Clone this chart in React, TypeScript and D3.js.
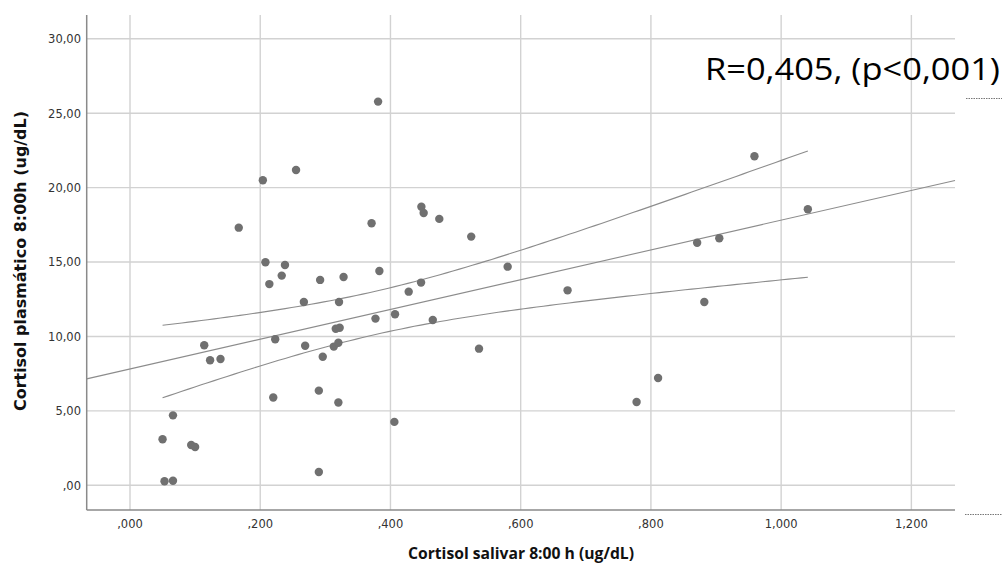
import React from "react";
import * as d3 from "d3";

// ---- data ----
const salivar: number[] = [
  0.050, 0.066, 0.094, 0.100, 0.053, 0.066, 0.220, 0.290, 0.320, 0.406,
  0.290, 0.778, 0.811, 0.167, 0.208, 0.238, 0.233, 0.214, 0.292, 0.267,
  0.321, 0.223, 0.269, 0.296, 0.114, 0.123, 0.139, 0.313, 0.320, 0.316,
  0.322, 0.328, 0.371, 0.383, 0.377, 0.407, 0.428, 0.447, 0.4475, 0.451,
  0.475, 0.524, 0.465, 0.536, 0.204, 0.255, 0.381, 0.580, 0.672, 0.871,
  0.905, 0.959, 1.041, 0.882,
];
const plasmatico: number[] = [
  3.09, 4.70, 2.71, 2.57, 0.27, 0.31, 5.90, 6.36, 5.56, 4.26,
  0.89, 5.60, 7.21, 17.31, 14.99, 14.80, 14.09, 13.52, 13.80, 12.32,
  12.32, 9.81, 9.38, 8.64, 9.41, 8.40, 8.49, 9.32, 9.58, 10.52,
  10.59, 14.00, 17.61, 14.40, 11.20, 11.49, 13.01, 13.62, 18.72, 18.30,
  17.90, 16.71, 11.11, 9.18, 20.50, 21.19, 25.78, 14.69, 13.10, 16.30,
  16.60, 22.11, 18.55, 12.32,
];
const xTicks: number[] = [0, 0.2, 0.4, 0.6, 0.8, 1.0, 1.2];
const xTickLabels: string[] = [",000", ",200", ",400", ",600", ",800", "1,000", "1,200"];
const yTicks: number[] = [0, 5, 10, 15, 20, 25, 30];
const yTickLabels: string[] = [",00", "5,00", "10,00", "15,00", "20,00", "25,00", "30,00"];
const xDomain: number[] = [-0.0665, 1.267];
const yDomain: number[] = [-1.66, 31.6];
const annotation = "R=0,405, (p<0,001)";
const xTitle = "Cortisol salivar 8:00 h (ug/dL)";
const yTitle = "Cortisol plasmático 8:00h (ug/dL)";
const tCrit = 2.0066; // t(0.975, df=52)

export default function App() {
  const W = 1002, H = 565;
  const left = 86.7, right = 955, top = 15, bottom = 510;
  const x = d3.scaleLinear().domain(xDomain).range([left, right]);
  const y = d3.scaleLinear().domain(yDomain).range([bottom, top]);

  // linear regression
  const n = salivar.length;
  const mx = d3.mean(salivar)!;
  const my = d3.mean(plasmatico)!;
  let sxx = 0, sxy = 0;
  for (let i = 0; i < n; i++) {
    sxx += (salivar[i] - mx) ** 2;
    sxy += (salivar[i] - mx) * (plasmatico[i] - my);
  }
  const b = sxy / sxx;
  const a = my - b * mx;
  let sse = 0;
  for (let i = 0; i < n; i++) sse += (plasmatico[i] - a - b * salivar[i]) ** 2;
  const s = Math.sqrt(sse / (n - 2));
  const fit = (v: number) => a + b * v;
  const half = (v: number) => tCrit * s * Math.sqrt(1 / n + (v - mx) ** 2 / sxx);

  const xmin = d3.min(salivar)!, xmax = d3.max(salivar)!;
  const grid = d3.range(0, 101).map((k) => xmin + ((xmax - xmin) * k) / 100);
  const line = d3.line<number[]>().x((d) => x(d[0])).y((d) => y(d[1]));
  const upper = line(grid.map((v) => [v, fit(v) + half(v)]))!;
  const lower = line(grid.map((v) => [v, fit(v) - half(v)]))!;
  const fitLine = line([[xDomain[0], fit(xDomain[0])], [xDomain[1], fit(xDomain[1])]])!;

  const gridColor = "#d2d2d2";
  const axisColor = "#8a8a8a";
  const font = "'DejaVu Sans', sans-serif";

  return (
    <svg width={W} height={H} style={{ position: "absolute", left: 0, top: 0, background: "#fff" }}>
      <rect x={0} y={0} width={W} height={H} fill="#fff" />
      {/* grid */}
      {yTicks.map((t) => (
        <line key={"gy" + t} x1={left} x2={right} y1={y(t)} y2={y(t)} stroke={gridColor} strokeWidth={1.4} />
      ))}
      {xTicks.map((t) => (
        <line key={"gx" + t} x1={x(t)} x2={x(t)} y1={top} y2={bottom} stroke={gridColor} strokeWidth={1.4} />
      ))}
      {/* axes */}
      <line x1={left} x2={left} y1={top} y2={bottom} stroke={axisColor} strokeWidth={1.5} />
      <line x1={left} x2={right} y1={bottom} y2={bottom} stroke={axisColor} strokeWidth={1.5} />
      {/* tick labels */}
      {yTicks.map((t, i) => (
        <text key={"ly" + t} x={81} y={y(t) + 4.3} textAnchor="end" fontFamily={font} fontSize={11.5} fill="#333">
          {yTickLabels[i]}
        </text>
      ))}
      {xTicks.map((t, i) => (
        <text key={"lx" + t} x={x(t)} y={528} textAnchor="middle" fontFamily={font} fontSize={11.5} fill="#333">
          {xTickLabels[i]}
        </text>
      ))}
      {/* regression & CI */}
      <path d={fitLine} fill="none" stroke="#8c8c8c" strokeWidth={1.1} />
      <path d={upper} fill="none" stroke="#8c8c8c" strokeWidth={1.1} />
      <path d={lower} fill="none" stroke="#8c8c8c" strokeWidth={1.1} />
      {/* points */}
      {salivar.map((v, i) => (
        <circle key={"p" + i} cx={x(v)} cy={y(plasmatico[i])} r={4.2} fill="#707070" />
      ))}
      {/* titles */}
      <text x={521} y={559} textAnchor="middle" fontFamily="'Open Sans', sans-serif" fontWeight={700} fontSize={16}
        textLength={226} lengthAdjust="spacingAndGlyphs" fill="#111">
        {xTitle}
      </text>
      <text transform="translate(26,261) rotate(-90)" textAnchor="middle" fontFamily={font} fontWeight={700} fontSize={15}
        textLength={300} lengthAdjust="spacingAndGlyphs" fill="#111">
        {yTitle}
      </text>
      <text x={705} y={80} fontFamily="'Open Sans', sans-serif" fontSize={31} textLength={295}
        lengthAdjust="spacingAndGlyphs" fill="#000">
        {annotation}
      </text>
      {/* clipped dotted rules at right */}
      <line x1={966} x2={1002} y1={98.5} y2={98.5} stroke="#777" strokeWidth={1} strokeDasharray="1.5,1" />
      <line x1={965} x2={1002} y1={514.5} y2={514.5} stroke="#777" strokeWidth={1} strokeDasharray="1.5,1" />
    </svg>
  );
}
